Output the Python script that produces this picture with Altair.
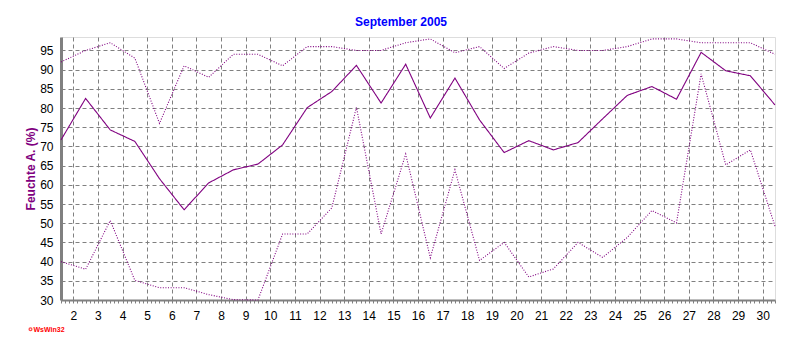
import altair as alt
import pandas as pd

# ---- data ----
days = list(range(1, 31))
max_vals = [92, 95, 97, 93, 76, 91, 88, 94, 94, 91, 96, 96, 95, 95, 97,
            98, 94.4, 96, 90.3, 94.3, 96, 95, 95, 96, 98, 98, 97, 97, 97, 94]
mean_vals = [71.7, 82.5, 74.3, 71.3, 61.6, 53.5, 60.5, 63.9, 65.4, 70.4,
             80.1, 84.3, 91.1, 81.3, 91.4, 77.4, 87.8, 76.9, 68.4, 71.5,
             69.1, 71.0, 77.2, 83.3, 85.6, 82.3, 94.5, 89.7, 88.4, 80.8]
min_vals = [40, 38, 50.7, 35.1, 33.2, 33.2, 31.4, 30.1, 30, 47.2,
            47.2, 54, 80.2, 47.2, 68, 41, 63.9, 40.3, 45, 36,
            38.1, 45, 41.1, 46.3, 53.3, 50.1, 88.9, 65.2, 69.1, 49.2]
series_names = ["Max", "Mittel", "Min"]

x_tick_values = [round(i / 6, 4) for i in range(9, 184)]   # 4-hour ticks
y_tick_values = list(range(30, 100, 5))

rows = []
for name, vals in zip(series_names, [max_vals, mean_vals, min_vals]):
    for d, v in zip(days, vals):
        rows.append({"day": d, "value": v, "series": name})
df = pd.DataFrame(rows)

FONT = "Liberation Sans"
PURPLE = "#800080"
GRID = "#808080"
is_int = "abs(datum.value - round(datum.value)) < 0.01"

lines = alt.Chart(df).transform_calculate(
    xpos="datum.day + 0.5"
).mark_line(color=PURPLE, strokeWidth=1.1).encode(
    x=alt.X("xpos:Q",
            scale=alt.Scale(domain=[1.5, 30.5], nice=False, zero=False),
            axis=alt.Axis(values=x_tick_values,
                          labelExpr=f"{is_int} ? format(round(datum.value), 'd') : ''",
                          labelOverlap=False, labelFlush=False, labelBound=False,
                          title=None, tickSize=3, tickColor=GRID, tickWidth=1,
                          labelPadding=7, labelFont=FONT, labelFontSize=12,
                          labelColor="black",
                          domainColor=GRID, domainWidth=2,
                          grid=True, gridColor=GRID, gridDash=[4, 3], gridWidth=1,
                          gridOpacity={"condition": {"test": is_int, "value": 1}, "value": 0})),
    y=alt.Y("value:Q",
            scale=alt.Scale(domain=[30, 98.5], nice=False, zero=False),
            axis=alt.Axis(values=y_tick_values, title="Feuchte A. (%)",
                          titleColor=PURPLE, titleFont=FONT, titleFontSize=12,
                          titleFontWeight="bold", titlePadding=2,
                          tickSize=0, labelPadding=8, labelFont=FONT,
                          labelFontSize=12, labelColor="black",
                          domainColor=GRID, domainWidth=3,
                          grid=True, gridColor=GRID, gridDash=[4, 3], gridWidth=1)),
    strokeDash=alt.StrokeDash("series:N",
                              scale=alt.Scale(domain=series_names,
                                              range=[[1, 1.6], [1, 0], [1, 1.6]]),
                              legend=None),
    detail="series:N",
)

logo_df = pd.DataFrame({"t": ["WsWin32"]})
logo_text = alt.Chart(logo_df).mark_text(
    align="left", baseline="alphabetic", color="#FF0000",
    font=FONT, fontSize=7, fontWeight="bold"
).encode(x=alt.value(-27.5), y=alt.value(294.5), text="t:N")
logo_dot = alt.Chart(logo_df).mark_point(
    shape="circle", filled=False, color="#FF0000", size=8, strokeWidth=1.3
).encode(x=alt.value(-30.5), y=alt.value(292.3))

chart = alt.layer(lines, logo_text, logo_dot).properties(
    width=714, height=263,
    title=alt.TitleParams("September 2005", color="#0000FF", font=FONT,
                          fontSize=12, fontWeight="bold", dx=-17,
                          baseline="alphabetic", offset=-1),
    autosize=alt.AutoSizeParams(type="none"),
    padding={"left": 53, "top": 29, "right": 17, "bottom": 42},
).configure_view(stroke="black", strokeWidth=1).configure(background="white")

chart.save("out.html", embed_options={"renderer": "svg", "actions": False})
